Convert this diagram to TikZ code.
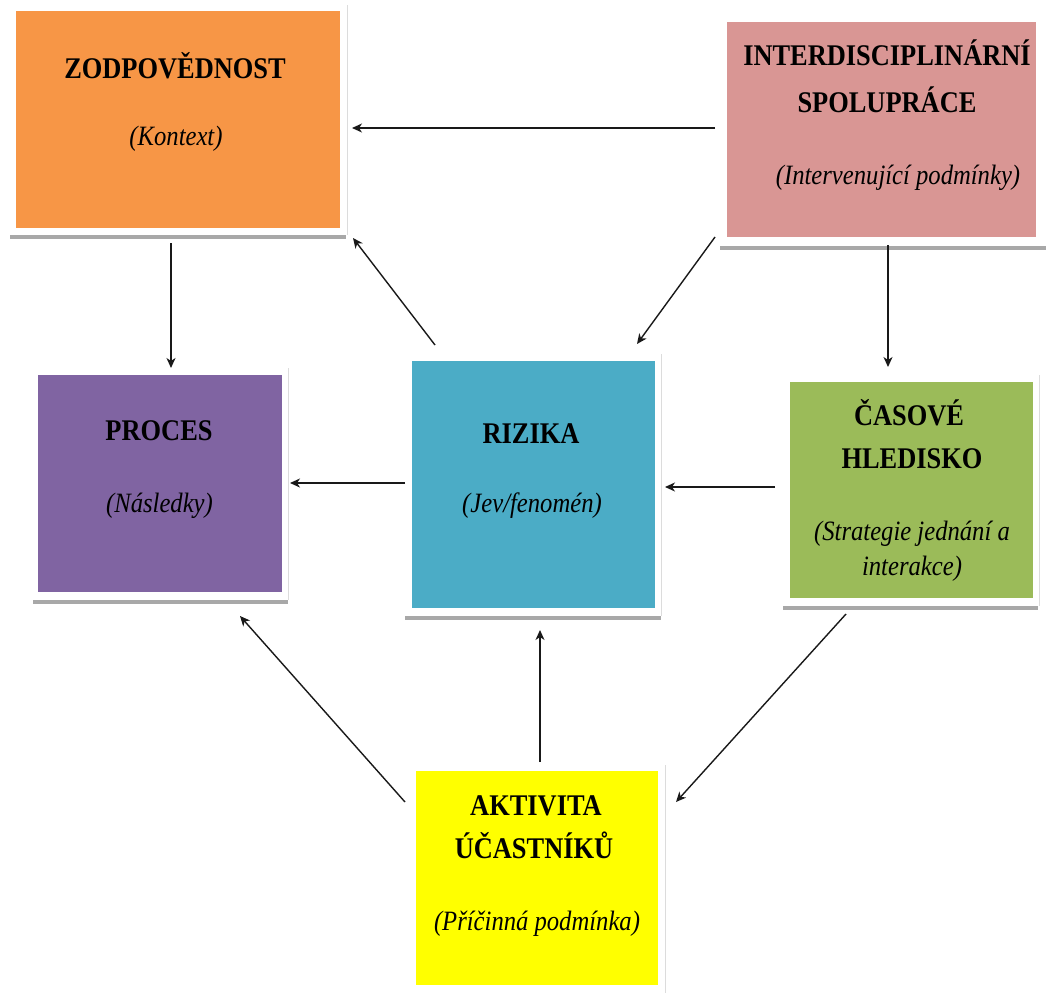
\documentclass[tikz,border=0pt]{standalone}
\usepackage{fontspec}
\setmainfont{Liberation Serif}[FakeStretch=0.88]
\usetikzlibrary{calc,arrows.meta}
\definecolor{corange}{HTML}{F79646}
\definecolor{cpink}{HTML}{D99694}
\definecolor{cpurple}{HTML}{8064A2}
\definecolor{cblue}{HTML}{4BACC6}
\definecolor{cgreen}{HTML}{9BBB59}
\definecolor{cyellow}{HTML}{FFFF00}
\definecolor{cbar}{HTML}{A8A8A8}
\definecolor{cedge}{HTML}{DCDCDC}
\begin{document}
\begin{tikzpicture}[x=1pt,y=-1pt,
  box/.style={draw=none,inner sep=0pt,outer sep=0pt,rectangle},
  shadowbar/.style={fill=cbar},
  edgeline/.style={draw=cedge,line width=1pt},
  ttl/.style={font=\fontsize{30}{34}\selectfont\bfseries,anchor=base,inner sep=0pt},
  sub/.style={font=\fontsize{28}{32}\selectfont\itshape,anchor=base,inner sep=0pt},
  arr/.style={draw=black!90,line width=1.4pt,-{Stealth[length=10pt,width=9pt,inset=3pt]}}]
\useasboundingbox (0,0) rectangle (1048,993);
% shadow bars and frame edges
\fill[shadowbar] (10,235) rectangle (346,239);
\draw[edgeline] (347,5) -- (347,235);
\fill[shadowbar] (720,246) rectangle (1046,250);
\fill[shadowbar] (33,600) rectangle (288,604);
\draw[edgeline] (288,368) -- (288,600);
\fill[shadowbar] (405,616) rectangle (661,620);
\draw[edgeline] (661,354) -- (661,616);
\fill[shadowbar] (783,606) rectangle (1038,610);
\draw[edgeline] (1039,375) -- (1039,606);
\draw[edgeline] (665,765) -- (665,993);
% boxes
\node[box,fill=corange,minimum width=324pt,minimum height=217pt] (zod) at (178,119.5) {};
\node[box,fill=cpink,minimum width=309pt,minimum height=215pt] (inter) at (881.5,129.5) {};
\node[box,fill=cpurple,minimum width=244pt,minimum height=217pt] (proc) at (160,483.5) {};
\node[box,fill=cblue,minimum width=243pt,minimum height=247pt] (riz) at (533.5,484.5) {};
\node[box,fill=cgreen,minimum width=243pt,minimum height=216pt] (cas) at (911.5,490) {};
\node[box,fill=cyellow,minimum width=242pt,minimum height=214pt] (akt) at (537,878) {};
% texts
\node[ttl] (t1) at (175,78) {ZODPOVĚDNOST};
\node[sub] (s1) at (176,145) {(Kontext)};
\node[ttl] (t2a) at (887,65) {INTERDISCIPLINÁRNÍ};
\node[ttl] (t2b) at (887,112) {SPOLUPRÁCE};
\node[sub] (s2) at (898,184) {(Intervenující podmínky)};
\node[ttl] (t3) at (159,440) {PROCES};
\node[sub] (s3) at (159.5,512) {(Následky)};
\node[ttl] (t4) at (531,443) {RIZIKA};
\node[sub] (s4) at (532,512) {(Jev/fenomén)};
\node[ttl] (t5a) at (909,425) {ČASOVÉ};
\node[ttl] (t5b) at (912,468) {HLEDISKO};
\node[sub] (s5a) at (912,540) {(Strategie jednání a};
\node[sub] (s5b) at (912,575) {interakce)};
\node[ttl] (t6a) at (536,815) {AKTIVITA};
\node[ttl] (t6b) at (534,858) {ÚČASTNÍKŮ};
\node[sub] (s6) at (537,930) {(Příčinná podmínka)};
% arrows
\draw[arr] ($(inter.west)+(-12,-1.5)$) -- ($(zod.east)+(12,8.5)$);
\draw[arr] ($(zod.south)+(-7,15)$) -- ($(proc.north)+(11,-7)$);
\draw[arr] ($(riz.north)+(-98.5,-16)$) -- ($(zod.south east)+(13,10)$);
\draw[arr] ($(inter.south west)+(-12,0)$) -- ($(riz.north)+(103.5,-17)$);
\draw[arr] ($(inter.south)+(6.5,8)$) -- ($(cas.north)+(-23.5,-15)$);
\draw[arr] ($(riz.west)+(-7,-1.5)$) -- ($(proc.east)+(8,-0.5)$);
\draw[arr] ($(cas.west)+(-15,-3)$) -- ($(riz.east)+(10,2.5)$);
\draw[arr] ($(akt.north west)+(-11,31)$) -- ($(proc.south)+(80,24)$);
\draw[arr] ($(akt.north)+(3,-9)$) -- ($(riz.south)+(6.5,22)$);
\draw[arr] ($(cas.south)+(-65.5,16)$) -- ($(akt.north east)+(18,31)$);
\end{tikzpicture}
\end{document}
